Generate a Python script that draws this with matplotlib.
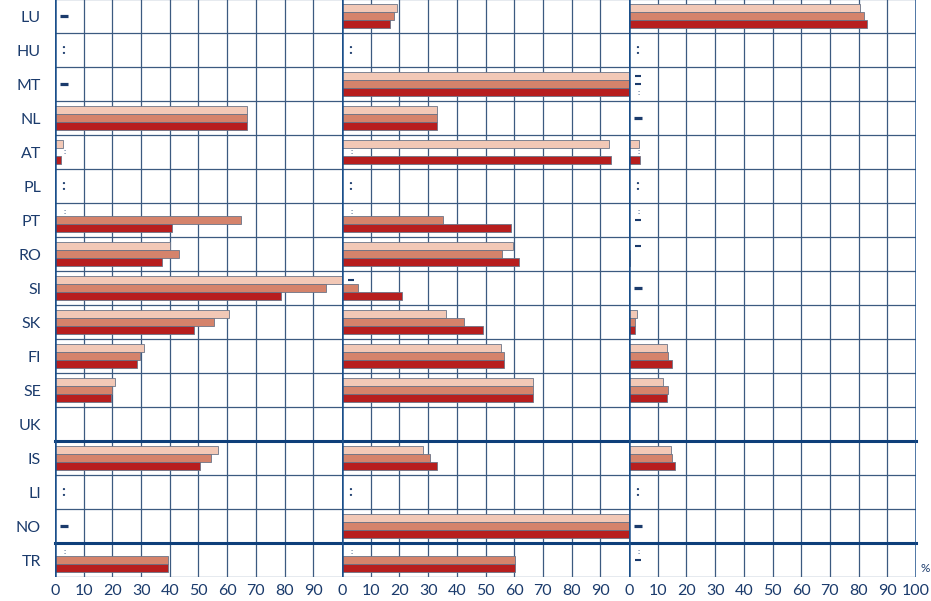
import numpy as np
import matplotlib
matplotlib.use("Agg")
import matplotlib.pyplot as plt

plt.rcParams['font.family'] = ['Lato', 'DejaVu Sans']

M = ":"   # not available
D = "-"   # not applicable
N = None  # empty

countries = ["LU", "HU", "MT", "NL", "AT", "PL", "PT", "RO", "SI",
             "SK", "FI", "SE", "UK", "IS", "LI", "NO", "TR"]

# panel 1
p1_light = [D, M, D, 67, 2.9, M, M, 40.2, 100, 60.7, 31.1, 21.0, N, 56.9, M, D, M]
p1_mid = [D, M, D, 67, M, M, 64.7, 43.1, 94.3, 55.3, 29.7, 19.7, N, 54.2, M, D, 39.3]
p1_dark = [D, M, D, 67, 2.0, M, 40.9, 37.3, 78.9, 48.3, 28.6, 19.5, N, 50.4, M, D, 39.5]

# panel 2
p2_light = [19.0, M, 100, 33.2, 93.1, M, M, 59.7, D, 36.3, 55.3, 66.7, N, 28.1, M, 100, M]
p2_mid = [18.0, M, 100, 33.0, M, M, 35.1, 55.9, 5.5, 42.4, 56.6, 66.7, N, 30.6, M, 100, 60.4]
p2_dark = [16.8, M, 100, 33.2, 93.6, M, 59.0, 61.8, 20.8, 49.2, 56.3, 66.7, N, 33.0, M, 100, 60.3]

# panel 3
p3_light = [80.6, M, D, D, 3.6, M, M, D, D, 2.7, 13.4, 12.0, N, 14.5, M, D, M]
p3_mid = [82.0, M, D, D, M, M, D, 0.2, D, 2.0, 13.5, 13.5, N, 15.1, M, D, D]
p3_dark = [83.0, M, M, D, 3.9, M, N, 0.2, D, 2.1, 14.9, 13.2, N, 16.1, M, D, N]

panels = [(p1_light, p1_mid, p1_dark),
          (p2_light, p2_mid, p2_dark),
          (p3_light, p3_mid, p3_dark)]

colors = ["#F2C8B6", "#D5836B", "#B71E1E"]
navy = "#1B3B6C"
grid_c = "#3C5A80"
W, H = 931, 601

fig = plt.figure(figsize=(W / 100, H / 100), dpi=100)

x0 = 55
pw = 287
bottom = 577
top = -1
y = np.arange(len(countries))
bh = 0.245
offs = [-bh, 0, bh]

for k, series in enumerate(panels):
    ax = fig.add_axes([(x0 + k * pw) / W, (H - bottom) / H, pw / W, (bottom - top) / H])
    ax.set_xlim(0, 100)
    ax.set_ylim(len(countries) - 0.5, -0.5)
    for s in ax.spines.values():
        s.set_visible(False)

    for gx in range(10, 100, 10):
        ax.axvline(gx, color=grid_c, lw=0.9, zorder=1)
    for gy in np.arange(-0.5, len(countries), 1.0):
        ax.axhline(gy, color=grid_c, lw=0.9, zorder=1)
    for gy in [12.5, 15.5]:
        ax.axhline(gy, color="#0E3F7A", lw=2.2, zorder=4, clip_on=False)
    ax.axvline(0, color="#1A4F8A", lw=1.8, zorder=5)
    if k == 2:
        ax.axvline(100, color="#1A4F8A", lw=1.8, zorder=5)

    for i in range(len(countries)):
        vals = [s[i] for s in series]
        if isinstance(vals[0], str) and vals[0] == vals[1] == vals[2]:
            if vals[0] == M:
                ax.text(3.0, i, ":", fontsize=11, fontweight="bold", color=navy,
                        ha="center", va="center", zorder=6)
            else:
                ax.plot([3.0], [i], marker="_", markersize=5.5, mew=2.3,
                        color=navy, zorder=6)
            continue
        for j, v in enumerate(vals):
            yy = i + offs[j]
            if v is None:
                continue
            if v == M:
                ax.text(3.3, yy, ":", fontsize=6, fontweight="bold", color=navy,
                        ha="center", va="center", zorder=6)
            elif v == D:
                ax.plot([3.3], [yy], marker="_", markersize=4, mew=1.5,
                        color=navy, zorder=6)
            else:
                ax.barh(yy, v, height=bh, color=colors[j], edgecolor="#6B7487",
                        linewidth=0.6, zorder=3)

    ticks = list(range(0, 101, 10)) if k == 2 else list(range(0, 91, 10))
    ax.set_xticks(ticks)
    ax.set_xticklabels([str(t) for t in ticks])
    ax.tick_params(axis="x", length=0, pad=5, labelsize=11.5, labelcolor=navy)
    if k == 0:
        ax.set_yticks(y)
        ax.set_yticklabels(countries)
        ax.tick_params(axis="y", length=0, pad=10, labelsize=11.5, labelcolor=navy)
    else:
        ax.set_yticks([])

fig.text(925 / W, 1 - 568 / H, "%", fontsize=8.5, color=navy, ha="center", va="center")

fig.savefig("out.png", dpi=100)
